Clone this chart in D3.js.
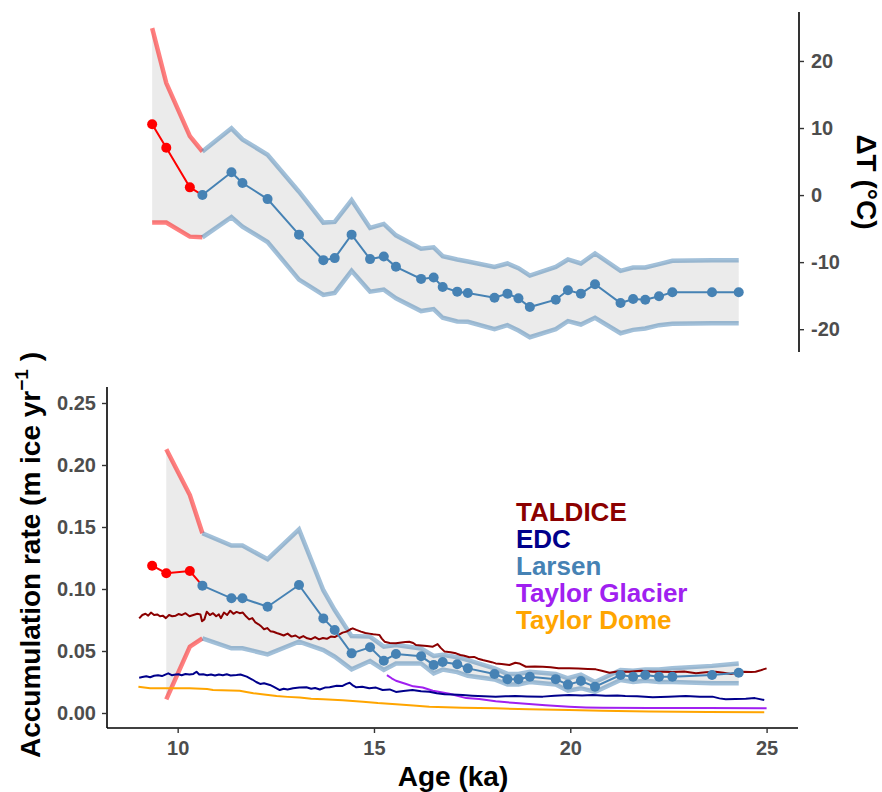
<!DOCTYPE html>
<html>
<head>
<meta charset="utf-8">
<script src="https://cdn.jsdelivr.net/npm/d3@7.9.0/dist/d3.min.js"></script>
<style>
  body { margin: 0; background: #fff; }
  svg { display: block; font-family: "Liberation Sans", Arial, sans-serif; }
  .tick text { font-weight: bold; fill: #4d4d4d; }
</style>
</head>
<body>
<div id="chart"></div>
<script>
// Larsen reconstruction: shared ages (ka), first 4 points are the red part
const larsenAge = [9.35, 9.71, 10.31, 10.63, 11.37, 11.65, 12.29, 13.09, 13.71, 14.0, 14.43, 14.9, 15.25, 15.56,
  16.2, 16.52, 16.75, 17.12, 17.39, 18.07, 18.4, 18.68, 18.97, 19.63, 19.94, 20.27, 20.63, 21.28, 21.6, 21.91,
  22.26, 22.6, 23.61, 24.29];

// top panel: temperature change (°C)
const dT = [10.55, 7.06, 1.15, 0, 3.4, 1.8, -0.6, -5.9, -9.7, -9.4, -5.9, -9.55, -9.15, -10.7, -12.5, -12.3,
  -13.7, -14.4, -14.6, -15.3, -14.7, -15.4, -16.7, -15.6, -14.2, -14.7, -13.3, -16.1, -15.5, -15.6, -15.1,
  -14.5, -14.5, -14.5];
const dTUpper = [24.9, 16.7, 8.8, 6.5, 9.95, 8.3, 6.0, 0.5, -4.1, -4.0, -0.75, -4.9, -4.3, -6.0, -8.0, -7.8,
  -9.1, -9.6, -9.9, -10.7, -10.2, -10.9, -12.0, -10.7, -9.6, -10.2, -8.7, -11.3, -10.8, -10.8, -10.3, -9.8,
  -9.7, -9.7];
const dTLower = [-4.1, -4.1, -6.2, -6.3, -3.3, -4.7, -7.0, -12.6, -14.9, -14.6, -11.3, -14.4, -14.1, -15.4,
  -17.3, -17.0, -18.3, -18.85, -18.9, -20.0, -19.4, -20.2, -21.2, -20.0, -18.8, -19.3, -18.3, -20.6, -20.1,
  -19.9, -19.4, -19.2, -19.1, -19.1];

// bottom panel: Larsen accumulation (m ice / yr)
const accum = [0.1188, 0.1127, 0.1145, 0.1027, 0.0925, 0.0925, 0.0857, 0.1032, 0.0763, 0.0669, 0.0481, 0.053,
  0.0422, 0.0476, 0.0457, 0.0388, 0.0411, 0.0393, 0.036, 0.0315, 0.0272, 0.0272, 0.0293, 0.0273, 0.0229,
  0.0258, 0.0212, 0.0306, 0.0293, 0.0306, 0.0293, 0.0293, 0.0306, 0.0325];
const accumUpper = [null, 0.2127, 0.1758, 0.145, 0.135, 0.135, 0.124, 0.148, 0.099, 0.083, 0.062, 0.0616,
  0.0535, 0.0548, 0.052, 0.046, 0.047, 0.045, 0.0427, 0.036, 0.0315, 0.0315, 0.0333, 0.0315, 0.028, 0.031,
  0.025, 0.0347, 0.034, 0.035, 0.035, 0.036, 0.038, 0.040];
const accumLower = [null, 0.011, 0.0535, 0.0602, 0.0522, 0.0522, 0.0473, 0.0575, 0.0508, 0.0454, 0.0352,
  0.0419, 0.0347, 0.040, 0.040, 0.032, 0.035, 0.033, 0.030, 0.027, 0.023, 0.023, 0.025, 0.023, 0.018, 0.020,
  0.017, 0.0266, 0.025, 0.026, 0.025, 0.025, 0.024, 0.024];

// other ice-core records [age ka, rate]
const taldice = [[9.02, 0.0763], [9.1, 0.079], [9.18, 0.080], [9.25, 0.0785], [9.32, 0.081], [9.4, 0.079],
  [9.48, 0.0795], [9.55, 0.078], [9.62, 0.0785], [9.7, 0.0765], [9.78, 0.079], [9.86, 0.078], [9.95, 0.0785],
  [10.02, 0.0798], [10.1, 0.079], [10.2, 0.0805], [10.3, 0.078], [10.4, 0.079], [10.5, 0.080], [10.58, 0.0795],
  [10.62, 0.074], [10.68, 0.0755], [10.74, 0.0817], [10.82, 0.079], [10.9, 0.0805], [10.98, 0.078],
  [11.05, 0.0795], [11.1, 0.0765], [11.18, 0.081], [11.26, 0.079], [11.34, 0.0825], [11.42, 0.080],
  [11.5, 0.0815], [11.58, 0.0805], [11.66, 0.081], [11.74, 0.078], [11.82, 0.0755], [11.9, 0.0765],
  [11.98, 0.073], [12.06, 0.0715], [12.14, 0.0695], [12.2, 0.0675], [12.28, 0.0685], [12.36, 0.066],
  [12.44, 0.0655], [12.52, 0.0645], [12.6, 0.0637], [12.7, 0.0625], [12.8, 0.064], [12.9, 0.0616],
  [13.0, 0.0625], [13.1, 0.0605], [13.2, 0.062], [13.3, 0.0602], [13.4, 0.0595], [13.5, 0.0612],
  [13.6, 0.0594], [13.7, 0.0605], [13.8, 0.0598], [13.9, 0.0616], [14.0, 0.0612], [14.1, 0.063],
  [14.2, 0.0648], [14.3, 0.0656], [14.4, 0.0675], [14.46, 0.0683], [14.55, 0.067], [14.67, 0.0656],
  [14.78, 0.0645], [14.88, 0.064], [14.98, 0.0635], [15.07, 0.0632], [15.14, 0.0629], [15.2, 0.060],
  [15.27, 0.0575], [15.4, 0.0565], [15.56, 0.0562], [15.7, 0.0568], [15.8, 0.0572], [15.9, 0.0575],
  [16.0, 0.0565], [16.07, 0.0548], [16.2, 0.0545], [16.35, 0.054], [16.5, 0.0535], [16.62, 0.0556],
  [16.7, 0.0525], [16.8, 0.0495], [16.95, 0.049], [17.09, 0.0481], [17.2, 0.0468], [17.3, 0.0462],
  [17.43, 0.0449], [17.55, 0.0452], [17.65, 0.0438], [17.77, 0.0427], [17.9, 0.0418], [18.0, 0.041],
  [18.1, 0.040], [18.25, 0.0395], [18.45, 0.0387], [18.6, 0.0405], [18.7, 0.040], [18.87, 0.0373],
  [19.1, 0.0375], [19.3, 0.0373], [19.5, 0.0368], [19.7, 0.036], [19.97, 0.036], [20.2, 0.0358],
  [20.45, 0.0355], [20.65, 0.0352], [20.8, 0.034], [21.0, 0.0325], [21.2, 0.0335], [21.5, 0.0333],
  [21.8, 0.034], [22.1, 0.0333], [22.35, 0.0333], [22.6, 0.033], [22.9, 0.0335], [23.2, 0.032],
  [23.45, 0.0328], [23.7, 0.0333], [23.9, 0.0325], [24.09, 0.0314], [24.25, 0.0325], [24.4, 0.0333],
  [24.6, 0.033], [24.72, 0.0333], [24.85, 0.0345], [25.0, 0.036]];

const edc = [[9.02, 0.0285], [9.1, 0.029], [9.2, 0.0296], [9.3, 0.0288], [9.4, 0.030], [9.5, 0.0305],
  [9.6, 0.0298], [9.7, 0.0312], [9.76, 0.032], [9.85, 0.0305], [9.95, 0.031], [10.02, 0.0312], [10.1, 0.0305],
  [10.2, 0.0315], [10.3, 0.031], [10.4, 0.0315], [10.48, 0.0333], [10.55, 0.031], [10.65, 0.0312],
  [10.75, 0.0305], [10.85, 0.031], [10.95, 0.0302], [11.05, 0.031], [11.15, 0.0305], [11.25, 0.0312],
  [11.35, 0.0303], [11.5, 0.0306], [11.6, 0.031], [11.76, 0.0293], [11.9, 0.027], [12.0, 0.025],
  [12.1, 0.0234], [12.2, 0.024], [12.35, 0.0226], [12.45, 0.021], [12.6, 0.0185], [12.7, 0.0195],
  [12.8, 0.019], [12.94, 0.0199], [13.1, 0.0205], [13.28, 0.0207], [13.4, 0.0195], [13.5, 0.0202],
  [13.62, 0.019], [13.75, 0.0205], [13.87, 0.0207], [14.05, 0.022], [14.2, 0.0218], [14.3, 0.0235],
  [14.38, 0.0244], [14.45, 0.0225], [14.55, 0.0207], [14.7, 0.0212], [14.88, 0.0199], [15.05, 0.0205],
  [15.22, 0.0185], [15.4, 0.019], [15.56, 0.017], [15.75, 0.0178], [15.98, 0.0185], [16.2, 0.0175],
  [16.41, 0.0172], [16.6, 0.016], [16.8, 0.0152], [17.0, 0.015], [17.26, 0.0145], [17.5, 0.014],
  [17.8, 0.0135], [18.1, 0.0132], [18.35, 0.0135], [18.6, 0.0137], [18.9, 0.0134], [19.3, 0.0132],
  [19.6, 0.014], [19.97, 0.0145], [20.3, 0.0142], [20.57, 0.0145], [20.9, 0.014], [21.2, 0.0142],
  [21.4, 0.0137], [21.7, 0.0135], [22.1, 0.0127], [22.5, 0.0132], [22.94, 0.0137], [23.3, 0.0132],
  [23.62, 0.0132], [23.8, 0.0118], [23.96, 0.011], [24.2, 0.0112], [24.47, 0.0115], [24.7, 0.012],
  [24.94, 0.0105]];

const taylorGlacier = [[15.33, 0.0306], [15.45, 0.028], [15.56, 0.026], [15.82, 0.0234], [16.0, 0.0215],
  [16.24, 0.0205], [16.5, 0.018], [16.92, 0.0155], [17.35, 0.012], [17.68, 0.0112], [18.1, 0.0095],
  [18.53, 0.0082], [18.95, 0.0072], [19.37, 0.0063], [19.97, 0.0051], [20.4, 0.0045], [20.82, 0.0042],
  [22.0, 0.004], [23.5, 0.004], [25.0, 0.0038]];

const taylorDome = [[9.0, 0.0212], [9.3, 0.0199], [9.9, 0.0199], [10.3, 0.0199], [10.75, 0.0193],
  [10.9, 0.0185], [11.58, 0.018], [11.75, 0.017], [11.93, 0.0159], [12.2, 0.015], [12.52, 0.0137],
  [12.8, 0.013], [13.11, 0.0124], [13.4, 0.0115], [13.71, 0.011], [14.2, 0.0102], [14.72, 0.0091],
  [15.1, 0.008], [15.56, 0.007], [16.0, 0.006], [16.41, 0.0051], [17.26, 0.0043], [18.1, 0.0038],
  [18.95, 0.003], [19.97, 0.0024], [20.8, 0.0018], [22.0, 0.0012], [23.5, 0.0008], [24.94, 0.0006]];

const legendNames = ['TALDICE', 'EDC', 'Larsen', 'Taylor Glacier', 'Taylor Dome'];
const legendColors = ['#8b0000', '#00008b', '#4682b4', '#a020f0', '#ffa500'];

const xTicks = [10, 15, 20, 25];
const dTTicks = [-20, -10, 0, 10, 20];
const accumTicks = [0, 0.05, 0.10, 0.15, 0.20, 0.25];

const width = 882, height = 792;
const svg = d3.select('#chart').append('svg').attr('width', width).attr('height', height);

const x = d3.scaleLinear().domain([8.2, 25.8]).range([107, 798]);
const yTop = d3.scaleLinear().domain([-23.4, 27.3]).range([352, 12]);
const yBot = d3.scaleLinear().domain([-0.0121, 0.2629]).range([728, 387]);

const idx = d3.range(larsenAge.length);
const redIdx = idx.filter(i => i <= 3);
const blueIdx = idx.filter(i => i >= 3);

function drawLarsen(g, y, mean, upper, lower) {
  const has = i => upper[i] != null;
  g.append('path')
    .datum(idx.filter(has))
    .attr('fill', '#ebebeb')
    .attr('d', d3.area().x(i => x(larsenAge[i])).y0(i => y(lower[i])).y1(i => y(upper[i])));

  const band = d3.line().x(i => x(larsenAge[i]));
  [[redIdx, '#ff0000'], [blueIdx, '#4682b4']].forEach(([ids, c]) => {
    [upper, lower].forEach(arr => {
      g.append('path')
        .datum(ids.filter(has))
        .attr('fill', 'none')
        .attr('stroke', c)
        .attr('stroke-opacity', 0.5)
        .attr('stroke-width', 4.5)
        .attr('d', band.y(i => y(arr[i])));
    });
  });
}

function drawMean(g, y, mean) {
  const line = d3.line().x(i => x(larsenAge[i])).y(i => y(mean[i]));
  [[redIdx, '#ff0000'], [blueIdx, '#4682b4']].forEach(([ids, c]) => {
    g.append('path').datum(ids)
      .attr('fill', 'none').attr('stroke', c).attr('stroke-width', 2)
      .attr('d', line);
  });
  g.selectAll(null)
    .data(idx)
    .join('circle')
    .attr('cx', i => x(larsenAge[i]))
    .attr('cy', i => y(mean[i]))
    .attr('r', 5)
    .attr('fill', i => i < 3 ? '#ff0000' : '#4682b4');
}

// ---- top panel ----
const topPanel = svg.append('g');
drawLarsen(topPanel, yTop, dT, dTUpper, dTLower);
drawMean(topPanel, yTop, dT);

const rightAxis = svg.append('g')
  .attr('transform', 'translate(799,0)')
  .call(d3.axisRight(yTop).tickValues(dTTicks).tickSize(5).tickPadding(6));
rightAxis.select('.domain').attr('stroke-width', 1.6).attr('d', 'M0,12V352');
rightAxis.selectAll('.tick line').attr('stroke', '#333').attr('stroke-width', 1.4);
rightAxis.selectAll('.tick text').attr('font-size', 20).attr('x', 12).text(d => d);

svg.append('text')
  .attr('transform', 'translate(857,182) rotate(90)')
  .attr('text-anchor', 'middle')
  .attr('font-size', 28).attr('font-weight', 'bold')
  .text('\u0394T (\u00b0C)');

// ---- bottom panel ----
const botPanel = svg.append('g');
drawLarsen(botPanel, yBot, accum, accumUpper, accumLower);

const rline = d3.line().x(d => x(d[0])).y(d => yBot(d[1]));
[[taylorDome, '#ffa500'], [taylorGlacier, '#a020f0'], [edc, '#00008b'], [taldice, '#8b0000']].forEach(([d, c]) => {
  botPanel.append('path').datum(d)
    .attr('fill', 'none').attr('stroke', c).attr('stroke-width', 2)
    .attr('stroke-linejoin', 'round')
    .attr('d', rline);
});
drawMean(botPanel, yBot, accum);

const xAxis = svg.append('g')
  .attr('transform', 'translate(0,728)')
  .call(d3.axisBottom(x).tickValues(xTicks).tickSize(5).tickPadding(8));
xAxis.select('.domain').attr('stroke-width', 1.6).attr('d', 'M107,0H798');
xAxis.selectAll('.tick line').attr('stroke', '#333').attr('stroke-width', 1.4);
xAxis.selectAll('.tick text').attr('font-size', 20);

const yAxis = svg.append('g')
  .attr('transform', 'translate(107,0)')
  .call(d3.axisLeft(yBot).tickValues(accumTicks).tickFormat(d3.format('.2f')).tickSize(5).tickPadding(6));
yAxis.select('.domain').attr('stroke-width', 1.6).attr('d', 'M0,387V728');
yAxis.selectAll('.tick line').attr('stroke', '#333').attr('stroke-width', 1.4);
yAxis.selectAll('.tick text').attr('font-size', 20);

svg.append('text')
  .attr('x', 453).attr('y', 786)
  .attr('text-anchor', 'middle')
  .attr('font-size', 28).attr('font-weight', 'bold')
  .text('Age (ka)');

const yt = svg.append('text')
  .attr('transform', 'translate(40,555) rotate(-90)')
  .attr('text-anchor', 'middle')
  .attr('font-size', 28).attr('font-weight', 'bold');
yt.append('tspan').text('Accumulation rate (m ice yr');
yt.append('tspan').attr('dy', -12).attr('font-size', 19).text('\u22121');
yt.append('tspan').attr('dy', 12).text(' )');

// legend labels
svg.append('g').selectAll('text')
  .data(legendNames)
  .join('text')
  .attr('x', 516)
  .attr('y', (d, i) => 521 + i * 27)
  .attr('font-size', 26).attr('font-weight', 'bold')
  .attr('fill', (d, i) => legendColors[i])
  .text(d => d);
</script>
</body>
</html>
